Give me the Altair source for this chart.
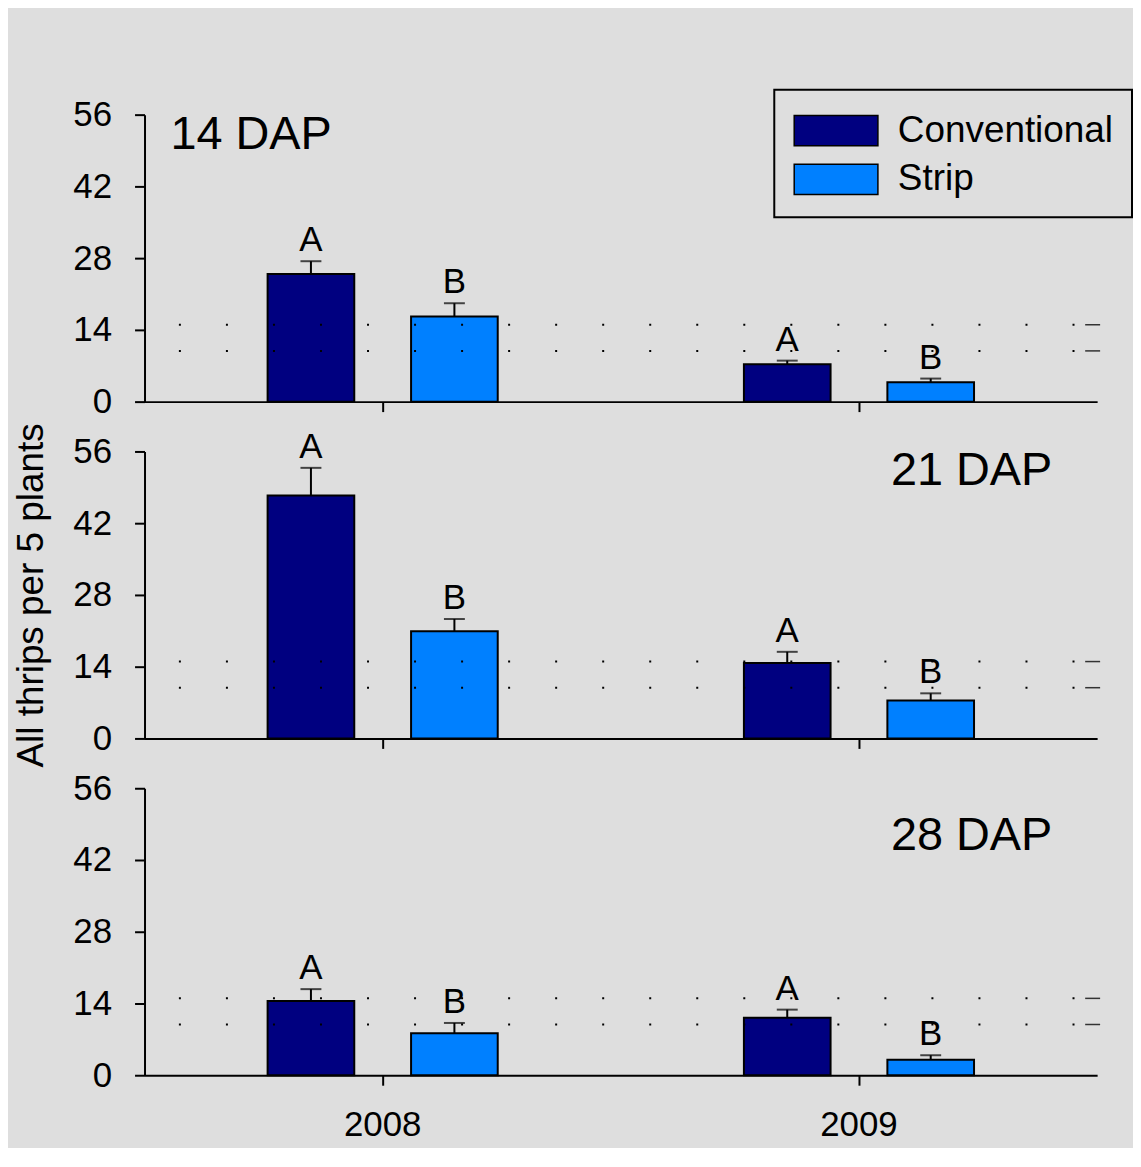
import altair as alt
import pandas as pd

# ---------------- data ----------------
years = ["2008", "2009"]
treatments = ["Conventional", "Strip"]
colors = ["#000080", "#0080ff"]

# 14 DAP
conv_14 = [24.9, 7.3]
strip_14 = [16.6, 3.8]
conv_se_14 = [2.5, 0.7]
strip_se_14 = [2.6, 0.7]
# 21 DAP
conv_21 = [47.4, 14.7]
strip_21 = [20.9, 7.4]
conv_se_21 = [5.4, 2.2]
strip_se_21 = [2.4, 1.4]
# 28 DAP
conv_28 = [14.5, 11.2]
strip_28 = [8.2, 3.0]
conv_se_28 = [2.3, 1.6]
strip_se_28 = [2.0, 0.9]

letters_conv = ["A", "A"]
letters_strip = ["B", "B"]

y_ticks = [0, 14, 28, 42, 56]
dotted_levels = [15.0, 9.9]

FONT = "Liberation Sans"
W, H = 956, 288


def make_df(conv, strip, conv_se, strip_se):
    rows = []
    for i, yr in enumerate(years):
        rows.append({"year": yr, "treatment": "Conventional", "mean": conv[i],
                     "upper": conv[i] + conv_se[i], "letter": letters_conv[i]})
        rows.append({"year": yr, "treatment": "Strip", "mean": strip[i],
                     "upper": strip[i] + strip_se[i], "letter": letters_strip[i]})
    return pd.DataFrame(rows)


def panel(label, conv, strip, conv_se, strip_se, x_labels, legend, ytitle,
          lab_align, lab_x, lab_y):
    df = make_df(conv, strip, conv_se, strip_se)
    yscale = alt.Scale(domain=[0, 56], nice=False)
    yaxis = alt.Axis(values=y_ticks, title=ytitle, grid=False)
    base = alt.Chart(df).encode(
        x=alt.X("year:N", sort=years,
                scale=alt.Scale(domain=years, paddingInner=0, paddingOuter=0),
                axis=alt.Axis(labels=x_labels, title=None, labelAngle=0)),
        xOffset=alt.XOffset("treatment:N",
                            scale=alt.Scale(domain=treatments,
                                            paddingInner=0.396, paddingOuter=0.858)),
    )
    bars = base.mark_bar(stroke="black", strokeWidth=2).encode(
        y=alt.Y("mean:Q", scale=yscale, axis=yaxis, title=ytitle),
        color=alt.Color("treatment:N",
                        scale=alt.Scale(domain=treatments, range=colors),
                        legend=legend),
    )
    err = base.mark_rule(color="black", strokeWidth=2).encode(
        y=alt.Y("mean:Q", title=ytitle), y2="upper:Q")
    cap = base.mark_tick(color="black", thickness=2, size=21,
                         orient="horizontal").encode(
        y=alt.Y("upper:Q", title=ytitle))
    letters = base.mark_text(fontSize=35, dy=-10, baseline="alphabetic",
                             font=FONT, color="black").encode(
        y=alt.Y("upper:Q", title=ytitle), text="letter:N")

    lev = pd.DataFrame({"level": dotted_levels})
    dots = alt.Chart(lev).mark_rule(strokeDash=[2, 45.2], strokeWidth=2,
                                    color="black").encode(
        y=alt.Y("level:Q", title=ytitle), x=alt.value(34.5), x2=alt.value(936))
    dash = alt.Chart(lev).mark_rule(strokeWidth=1.5, color="#333333").encode(
        y=alt.Y("level:Q", title=ytitle), x=alt.value(944), x2=alt.value(959))

    lab = alt.Chart(pd.DataFrame({"label": [label]})).mark_text(
        fontSize=47, align=lab_align, baseline="alphabetic", font=FONT,
        color="black").encode(
        x=alt.value(lab_x), y=alt.value(lab_y), text="label:N")

    return alt.layer(bars, dots, dash, err, cap, letters, lab).properties(
        width=W, height=H)


legend = alt.Legend(
    orient="none", legendX=632, legendY=-25, title=None,
    labelFontSize=37, labelFont=FONT, labelColor="black", labelLimit=0,
    symbolType="M-1,-0.726H3V0.726H-1Z", symbolSize=1764,
    symbolStrokeColor="black", symbolStrokeWidth=1.5, symbolOpacity=1,
    strokeColor="black", fillColor="#dedede", padding=19, rowPadding=8,
    labelOffset=61,
)

p1 = panel("14 DAP", conv_14, strip_14, conv_se_14, strip_se_14,
           False, legend, None, "left", 26, 34)
p2 = panel("21 DAP", conv_21, strip_21, conv_se_21, strip_se_21,
           False, None, "All thrips per 5 plants", "right", 911, 34)
p3 = panel("28 DAP", conv_28, strip_28, conv_se_28, strip_se_28,
           True, None, None, "right", 911, 62)

chart = alt.vconcat(p1, p2, p3, spacing=50, bounds="flush").resolve_legend(
    color="independent"
).properties(
    background="#dedede",
    padding={"left": 5, "top": 79, "right": 0, "bottom": 4},
).configure(font=FONT).configure_view(stroke=None).configure_axis(
    domainColor="black", domainWidth=2, tickColor="black", tickWidth=2,
    tickSize=10, labelFontSize=35, labelColor="black", labelFont=FONT,
    titleFont=FONT, titleFontSize=37, titleFontWeight="normal",
    titleColor="black", titlePadding=22, grid=False,
).configure_axisY(labelPadding=23).configure_axisX(labelPadding=22
).configure_legend(strokeWidth=2)

chart.save("out.html", embed_options={"renderer": "svg", "actions": False})
